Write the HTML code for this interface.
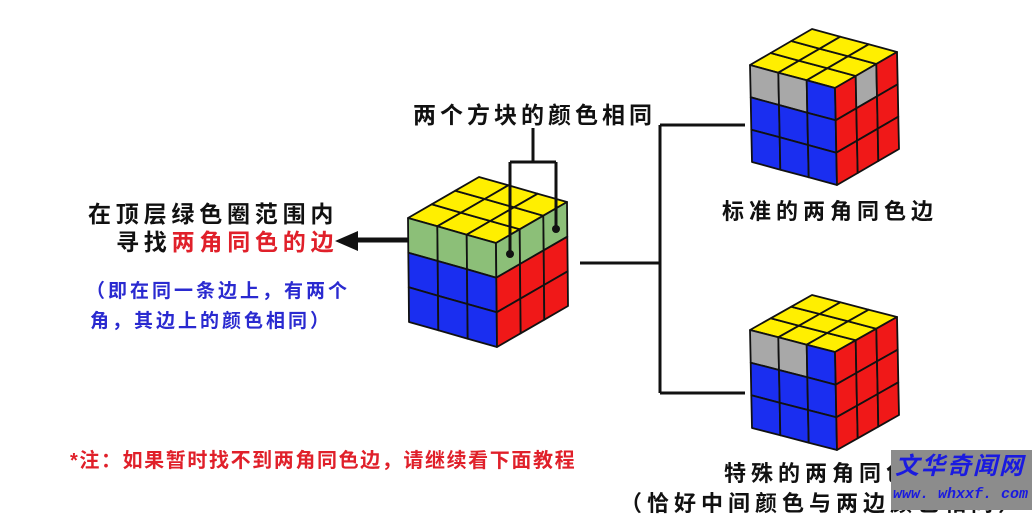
<!DOCTYPE html>
<html><head><meta charset="utf-8"><style>
body{margin:0;background:#fff;width:1032px;height:521px;overflow:hidden;position:relative;font-family:"Liberation Sans","Noto Sans CJK SC",sans-serif;font-weight:bold}
.t{position:absolute;white-space:nowrap;line-height:1}
svg{position:absolute;left:0;top:0}
</style></head><body>
<svg id="s" width="1032" height="521" xmlns="http://www.w3.org/2000/svg"></svg>
<div class="t" style="left:413px;top:104px;font-size:23px;letter-spacing:4px;color:#111">两个方块的颜色相同</div>
<div class="t" style="left:88px;top:203px;font-size:23px;letter-spacing:4.8px;color:#111">在顶层绿色圈范围内</div>
<div class="t" style="left:116px;top:231px;font-size:23px;letter-spacing:4.8px;color:#111">寻找<span style="color:#e0202a">两角同色的边</span></div>
<div class="t" style="left:86px;top:282px;font-size:19px;letter-spacing:3px;color:#2a2ad0">（即在同一条边上，有两个</div>
<div class="t" style="left:90px;top:312px;font-size:19px;letter-spacing:3px;color:#2a2ad0">角，其边上的颜色相同）</div>
<div class="t" style="left:70px;top:451px;font-size:20px;letter-spacing:1.6px;color:#e0202a">*注：如果暂时找不到两角同色边，请继续看下面教程</div>
<div class="t" style="left:722px;top:201px;font-size:22px;letter-spacing:5px;color:#111">标准的两角同色边</div>
<div class="t" style="left:724px;top:463px;font-size:22px;letter-spacing:5px;color:#111">特殊的两角同色边</div>
<div class="t" style="left:620px;top:493px;font-size:22px;letter-spacing:5px;color:#111">（恰好中间颜色与两边颜色相同）</div>
<div style="position:absolute;left:891px;top:450px;width:141px;height:60px;background:#8c8c8c"></div>
<div class="t" style="left:895px;top:455px;font-size:24px;font-style:italic;color:#1a1ae0;letter-spacing:2px">文华奇闻网</div>
<div class="t" style="left:893px;top:487px;font-size:15px;font-style:italic;color:#1a1ae0;font-family:'Liberation Mono',monospace">www. whxxf. com</div>
<script>
var s=document.getElementById('s'),h='';
function P(pts,fill){h+='<polygon points="'+pts.map(p=>p[0].toFixed(1)+','+p[1].toFixed(1)).join(' ')+'" fill="'+fill+'" stroke="#111" stroke-width="1.8" stroke-linejoin="round"/>';}
function add(a,b,k){return [a[0]+b[0]*k,a[1]+b[1]*k];}
function cube(L,F,R,D,top,left,right){
 var u=[(R[0]-F[0])/3,(R[1]-F[1])/3],v=[(F[0]-L[0])/3,(F[1]-L[1])/3],d=[D[0]/3,D[1]/3];
 for(var i=0;i<3;i++)for(var j=0;j<3;j++){var o=add(add(L,v,i),u,j);P([o,add(o,v,1),add(add(o,v,1),u,1),add(o,u,1)],top[i][j]);}
 for(var r=0;r<3;r++)for(var i=0;i<3;i++){var o=add(add(L,v,i),d,r);P([o,add(o,v,1),add(add(o,v,1),d,1),add(o,d,1)],left[r][i]);}
 for(var r=0;r<3;r++)for(var j=0;j<3;j++){var o=add(add(F,u,j),d,r);P([o,add(o,u,1),add(add(o,u,1),d,1),add(o,d,1)],right[r][j]);}
}
var Y='#ffef00',B='#1a2ef0',Rd='#f01818',G='#a8a8a8',Gr='#8cbf78';
var yy=[[Y,Y,Y],[Y,Y,Y],[Y,Y,Y]];
cube([408,218],[496,243],[567,202],[1,104],yy,[[Gr,Gr,Gr],[B,B,B],[B,B,B]],[[Gr,Gr,Gr],[Rd,Rd,Rd],[Rd,Rd,Rd]]);
cube([750,65],[835,88],[897,52],[2,97],yy,[[G,G,B],[B,B,B],[B,B,B]],[[Rd,G,Rd],[Rd,Rd,Rd],[Rd,Rd,Rd]]);
cube([750,330],[835,352],[897,317],[2,98],yy,[[G,G,B],[B,B,B],[B,B,B]],[[Rd,Rd,Rd],[Rd,Rd,Rd],[Rd,Rd,Rd]]);
h+='<g stroke="#111" stroke-width="3" fill="none"><path d="M533 128V162M510 162H556M510 162V254M556 162V229"/><path d="M580 263H660M660 125V393M660 125H745M660 393H745"/></g>';
h+='<circle cx="510" cy="254" r="4" fill="#111"/><circle cx="556" cy="229" r="4" fill="#111"/>';
h+='<path d="M408 240H352" stroke="#111" stroke-width="5"/><polygon points="335,241 358,231 358,251" fill="#111"/>';
s.innerHTML=h;
</script>
</body></html>
